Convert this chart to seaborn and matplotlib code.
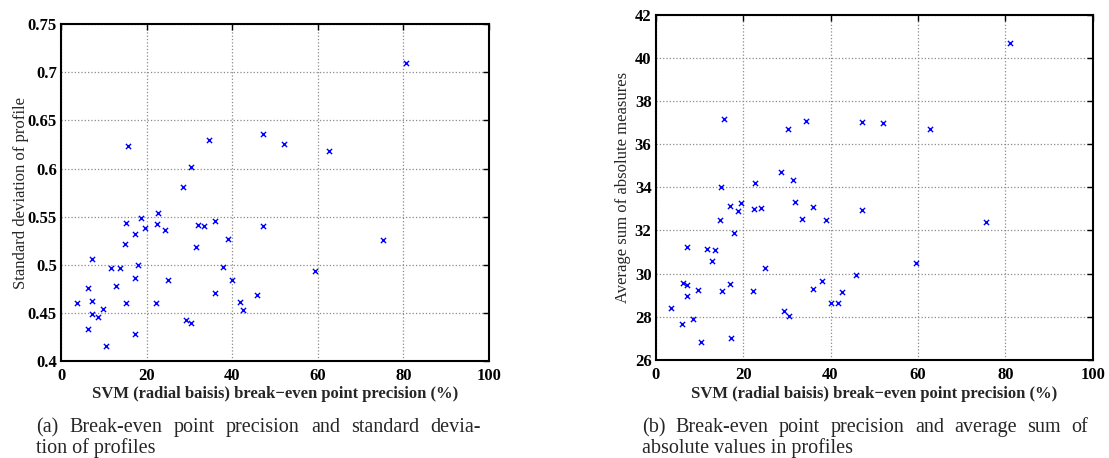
import matplotlib
matplotlib.use('Agg')
import matplotlib.pyplot as plt
import seaborn as sns
from matplotlib.ticker import MultipleLocator, FormatStrFormatter

# panel (a): precision vs standard deviation of profile
prec_a = [15.7, 34.5, 30.35, 28.6, 47.1, 52.0, 80.7, 62.7, 75.3, 59.3,
          22.7, 15.2, 18.8, 19.7, 22.4, 24.2, 31.9, 33.5, 36.0, 47.2,
          17.2, 14.9, 39.0, 31.5, 7.3, 11.7, 13.8, 18.0, 37.9, 17.2,
          24.9, 39.9, 6.4, 12.8, 36.0, 45.8, 3.8, 7.3, 15.2, 22.2,
          41.8, 9.7, 42.6, 7.3, 8.7, 29.3, 30.35, 6.2, 17.4, 10.6]
std_a = [0.6235, 0.6295, 0.6017, 0.5805, 0.6357, 0.626, 0.7094, 0.6183, 0.526, 0.494,
         0.5542, 0.5438, 0.5486, 0.5381, 0.542, 0.536, 0.541, 0.5402, 0.5454, 0.540,
         0.5319, 0.5215, 0.5267, 0.5187, 0.5063, 0.4965, 0.4965, 0.500, 0.4975, 0.486,
         0.484, 0.4847, 0.4764, 0.4781, 0.4704, 0.4683, 0.4604, 0.4625, 0.460, 0.4604,
         0.461, 0.4545, 0.4527, 0.4493, 0.4454, 0.4427, 0.4392, 0.4336, 0.4277, 0.4152]

# panel (b): precision vs average sum of absolute measures
prec_b = [15.7, 34.4, 30.3, 47.2, 52.1, 28.6, 22.7, 31.5, 15.0, 81.0,
          62.8, 75.5, 59.5, 31.8, 17.0, 19.5, 18.8, 22.4, 24.1, 35.9,
          47.3, 14.7, 33.5, 38.9, 17.9, 7.2, 11.7, 13.6, 12.8, 24.9,
          45.8, 6.2, 7.2, 9.6, 15.1, 17.1, 22.2, 36.1, 38.0, 42.6,
          7.2, 3.6, 40.0, 41.8, 29.3, 30.4, 5.95, 8.5, 17.2, 10.3]
abs_b = [37.15, 37.06, 36.69, 37.02, 36.98, 34.70, 34.2, 34.36, 34.0, 40.70,
         36.69, 32.41, 30.51, 33.34, 33.13, 33.27, 32.92, 32.99, 33.06, 33.10,
         32.96, 32.50, 32.52, 32.50, 31.88, 31.25, 31.16, 31.09, 30.57, 30.26,
         29.95, 29.56, 29.47, 29.25, 29.21, 29.53, 29.19, 29.27, 29.65, 29.16,
         28.97, 28.40, 28.62, 28.65, 28.28, 28.03, 27.68, 27.89, 27.03, 26.85]

xlabel = 'SVM (radial baisis) break\u2212even point precision (%)'
ylabel_a = 'Standard deviation of profile'
ylabel_b = 'Average sum of absolute measures'
caption_a = ['(a) Break-even point precision and standard devia-', 'tion of profiles']
caption_b = ['(b) Break-even point precision and average sum of', 'absolute values in profiles']

sns.set_style('white')
plt.rcParams['font.family'] = ['Liberation Serif', 'DejaVu Serif']

W, H = 1109, 458
fig = plt.figure(figsize=(W / 100, H / 100), dpi=100)
ax_a = fig.add_axes([61 / W, 1 - 361 / H, 428 / W, 336.7 / H])
ax_b = fig.add_axes([655.7 / W, 1 - 360 / H, 437 / W, 345.4 / H])

panels = [
    (ax_a, prec_a, std_a, ylabel_a, (0.4, 0.75), 0.05, '%g', -0.074),
    (ax_b, prec_b, abs_b, ylabel_b, (26, 42), 2, '%d', -0.056),
]

for ax, xs, ys, ylab, ylim, ystep, fmt, ylab_x in panels:
    sns.scatterplot(x=xs, y=ys, ax=ax, marker='x', color='#0000ff', s=14,
                    linewidth=1.0, zorder=3)
    ax.set_xlim(0, 100)
    ax.set_ylim(*ylim)
    ax.xaxis.set_major_locator(MultipleLocator(20))
    ax.yaxis.set_major_locator(MultipleLocator(ystep))
    ax.yaxis.set_major_formatter(FormatStrFormatter(fmt))
    ax.grid(True, linestyle=':', color='#8a8a8a', linewidth=0.9)
    ax.set_axisbelow(True)
    for sp in ax.spines.values():
        sp.set_visible(True)
        sp.set_color('black')
        sp.set_linewidth(1.5)
    ax.tick_params(direction='in', length=4, width=1, top=True, right=True,
                   labelsize=12, colors='black')
    ax.tick_params(axis='x', pad=5)
    ax.tick_params(axis='y', pad=3)
    for lab in ax.get_xticklabels() + ax.get_yticklabels():
        lab.set_fontweight('bold')
    ax.set_xlabel(xlabel, fontsize=12, fontweight='bold')
    ax.xaxis.set_label_coords(0.5, -0.074)
    ax.set_ylabel(ylab, fontsize=12)
    ax.yaxis.set_label_coords(ylab_x, 0.5)


# captions: first line justified across the column like the paper
def justified_line(x0, x1, y, text, size):
    words = text.split(' ')
    r = fig.canvas.get_renderer()
    widths = []
    for w in words:
        t = fig.text(0, 0, w, fontsize=size)
        widths.append(t.get_window_extent(r).width)
        t.remove()
    gap = (x1 - x0 - sum(widths)) / (len(words) - 1)
    x = x0
    for w, wd in zip(words, widths):
        fig.text(x / W, y, w, fontsize=size, va='baseline', ha='left')
        x += wd + gap


for lines, x0, x1 in [(caption_a, 36, 481), (caption_b, 642, 1088)]:
    justified_line(x0, x1, 1 - 432 / H, lines[0], 14.5)
    fig.text(x0 / W, 1 - 453 / H, lines[1], fontsize=14.5, va='baseline', ha='left')

fig.savefig('out.png', dpi=100)
plt.close(fig)
